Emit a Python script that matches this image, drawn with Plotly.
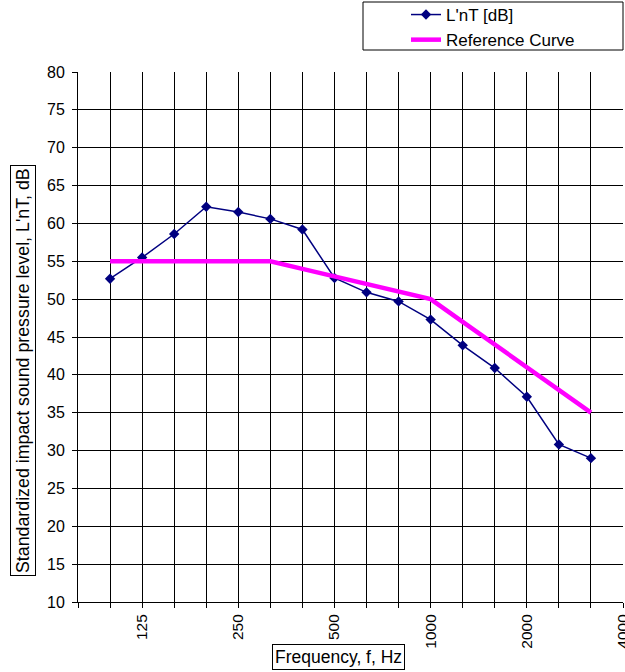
import plotly.graph_objects as go

# One-third-octave band centre frequencies (Hz) measured
freqs = [100, 125, 160, 200, 250, 315, 400, 500, 630, 800,
         1000, 1250, 1600, 2000, 2500, 3150]
# Measured standardized impact sound pressure level L'nT (dB)
lnt = [52.7, 55.5, 58.6, 62.2, 61.5, 60.6, 59.2, 52.8, 50.9, 49.7,
       47.3, 43.9, 40.9, 37.1, 30.8, 29.0]
# Shifted ISO 717-2 reference curve (dB)
ref_curve = [55, 55, 55, 55, 55, 55, 54, 53, 52, 51,
             50, 47, 44, 41, 38, 35]

# Full band sequence spanned by the category axis (one band either side)
axis_bands = [80] + freqs + [4000]
labelled_bands = [125, 250, 500, 1000, 2000, 4000]

pos = {f: i - 1 for i, f in enumerate(axis_bands)}
x_data = [pos[f] for f in freqs]
tickvals = [pos[f] for f in axis_bands]
ticktext = [str(f) if f in labelled_bands else "" for f in axis_bands]

FONT = "Liberation Sans, Arial, sans-serif"

fig = go.Figure()
fig.add_trace(go.Scatter(
    x=x_data, y=lnt, name="L'nT [dB]", mode="lines+markers",
    line=dict(color="#000080", width=1.5),
    marker=dict(symbol="diamond", size=8, color="#000080"),
))
fig.add_trace(go.Scatter(
    x=x_data, y=ref_curve, name="Reference Curve", mode="lines",
    line=dict(color="#FF00FF", width=4.5),
))

L, R, T, B = 78, 2, 72, 70
W, H = 625, 672
pw, ph = W - L - R, H - T - B

def px_x(px):
    return (px - L) / pw

def px_y(py):
    return (H - B - py) / ph

fig.update_layout(
    width=W, height=H,
    margin=dict(l=L, r=R, t=T, b=B, autoexpand=False),
    paper_bgcolor="white", plot_bgcolor="white",
    font=dict(family=FONT, size=16, color="black"),
    showlegend=True,
    legend=dict(
        x=px_x(406), y=px_y(-3), xanchor="left", yanchor="top",
        bgcolor="rgba(0,0,0,0)", borderwidth=0,
        font=dict(family=FONT, size=17, color="black"),
        tracegroupgap=0,
    ),
    xaxis=dict(
        range=[-1, 16], tickmode="array", tickvals=tickvals, ticktext=ticktext,
        tickangle=-90, showgrid=True, gridcolor="black", gridwidth=1,
        ticks="outside", ticklen=5, tickcolor="black",
        showline=True, linecolor="black", linewidth=1, zeroline=False,
        tickfont=dict(family=FONT, size=15.5), automargin=False,
        ticklabeloverflow="allow",
    ),
    yaxis=dict(
        range=[10, 80], dtick=5, tick0=10, showgrid=True, gridcolor="black",
        gridwidth=1, ticks="outside", ticklen=5, tickcolor="black",
        showline=True, linecolor="black", linewidth=1, zeroline=False,
        tickfont=dict(family=FONT, size=16), automargin=False,
        ticklabelstandoff=4,
    ),
    shapes=[dict(
        type="rect", xref="paper", yref="paper",
        x0=px_x(363), x1=px_x(623), y0=px_y(50), y1=px_y(2),
        line=dict(color="black", width=1), fillcolor="rgba(0,0,0,0)",
    )],
    annotations=[
        dict(text="Standardized impact sound pressure level, L'nT, dB",
             xref="paper", yref="paper", x=px_x(23), y=px_y(371),
             xanchor="center", yanchor="middle",
             textangle=-90, showarrow=False, bordercolor="black",
             borderwidth=1, borderpad=2, font=dict(family=FONT, size=17.8)),
        dict(text="Frequency, f, Hz",
             xref="paper", yref="paper", x=px_x(338), y=px_y(657),
             xanchor="center", yanchor="middle",
             showarrow=False, bordercolor="black",
             borderwidth=1, borderpad=2, font=dict(family=FONT, size=17.5)),
    ],
)

fig.write_html("out.html")
